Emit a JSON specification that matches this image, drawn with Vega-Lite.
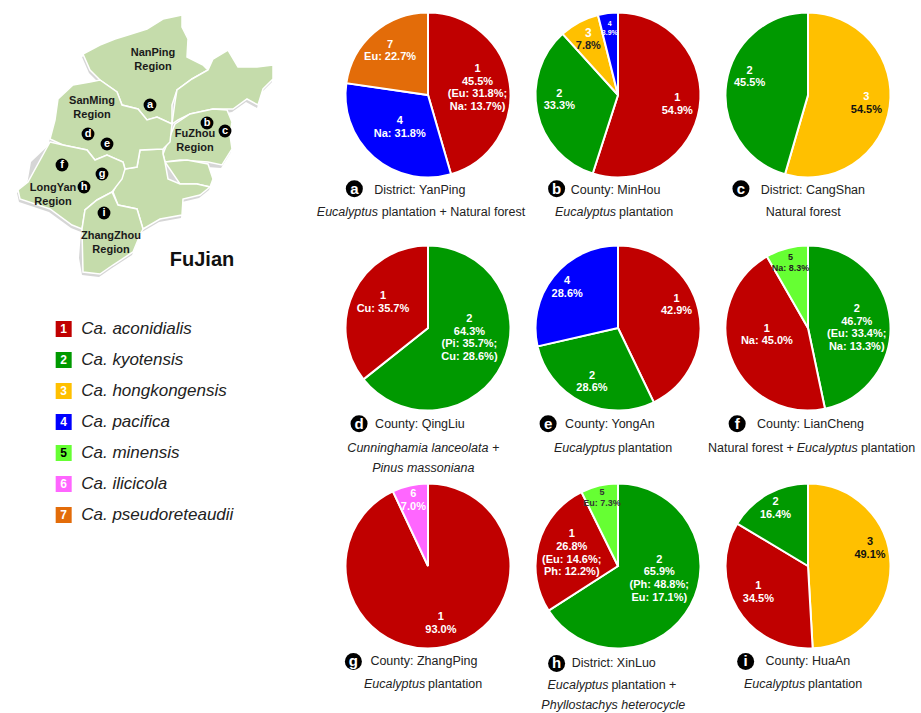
{
"$schema":"https://vega.github.io/schema/vega-lite/v6.json",
"padding":{"left":0,"top":8,"right":0,"bottom":0},
"background":"white",
"config":{"view":{"stroke":null},"axis":{"disable":true},"legend":{"disable":true},"font":"Liberation Sans"},
"bounds":"flush",
"spacing":{"row":0,"column":20},
"columns":4,
"concat":[
{"width":323,"height":170,"projection":{"type":"identity","scale":1,"translate":[0,-8]},
"layer":[
{"data":{"values":{"type":"FeatureCollection","features":[
{"type":"Feature","properties":{"name":"Shadow"},"geometry":{"type":"Polygon","coordinates":[[[82,55],[99,46],[114,40],[127,36],[146,30],[162,20],[181,16],[181,28],[187,40],[186,58],[202,66],[207,71],[212,60],[227,51],[237,68],[256,68],[272,66],[272,80],[262,90],[257,106],[246,100],[232,110],[226,111],[231,123],[229,136],[231,150],[221,166],[207,165],[212,180],[209,188],[199,196],[182,200],[181,216],[159,220],[142,230],[139,236],[132,253],[112,266],[99,275],[82,273],[79,256],[81,230],[71,226],[49,210],[19,200],[17,191],[27,183],[31,160],[49,143],[49,140],[54,121],[61,116],[57,100],[72,86],[89,83],[99,81],[89,71],[82,55]]]}}
]},"format":{"type":"json","property":"features"}},
"mark":{"type":"geoshape","fill":"#d6d6d6","stroke":null,"clip":false}},
{"data":{"values":{"type":"FeatureCollection","features":[
{"type":"Feature","properties":{"name":"NanPing"},"geometry":{"type":"Polygon","coordinates":[[[83,52],[100,43],[115,37],[128,33],[147,27],[163,17],[182,13],[182,25],[188,37],[187,55],[203,63],[208,68],[192,77],[177,88],[172,103],[172,122],[157,115],[147,118],[138,107],[122,103],[117,90],[100,78],[90,68],[83,52]]]}},
{"type":"Feature","properties":{"name":"NingDe"},"geometry":{"type":"Polygon","coordinates":[[[172,122],[175,100],[177,88],[192,77],[208,68],[213,57],[228,48],[238,65],[257,65],[273,63],[273,77],[263,87],[258,103],[247,97],[233,107],[213,107],[190,112],[178,118],[175,122]]]}},
{"type":"Feature","properties":{"name":"FuZhou"},"geometry":{"type":"Polygon","coordinates":[[[175,122],[190,112],[213,107],[227,108],[232,120],[230,133],[232,147],[222,163],[208,160],[180,158],[165,160],[163,152],[170,140]]]}},
{"type":"Feature","properties":{"name":"PuTian"},"geometry":{"type":"Polygon","coordinates":[[[165,160],[187,158],[208,162],[213,177],[210,185],[197,182],[180,182],[168,177]]]}},
{"type":"Feature","properties":{"name":"QuanZhou"},"geometry":{"type":"Polygon","coordinates":[[[125,167],[137,165],[140,148],[163,147],[163,152],[165,160],[168,177],[180,182],[197,182],[210,185],[200,193],[183,197],[182,213],[160,217],[143,227],[137,207],[118,203],[113,190],[122,177]]]}},
{"type":"Feature","properties":{"name":"SanMing"},"geometry":{"type":"Polygon","coordinates":[[[58,97],[73,83],[90,80],[100,78],[117,90],[122,103],[138,107],[147,118],[157,115],[172,122],[170,140],[163,147],[140,148],[137,165],[125,167],[123,160],[107,153],[95,158],[87,148],[63,143],[50,137],[55,118],[62,113]]]}},
{"type":"Feature","properties":{"name":"LongYan"},"geometry":{"type":"Polygon","coordinates":[[[50,140],[63,143],[87,148],[95,158],[107,153],[123,160],[125,167],[122,177],[112,190],[97,198],[85,208],[82,227],[72,223],[50,207],[20,197],[18,188],[28,180],[32,157]]]}},
{"type":"Feature","properties":{"name":"ZhangZhou"},"geometry":{"type":"Polygon","coordinates":[[[82,227],[85,208],[97,198],[112,190],[118,203],[137,207],[143,227],[140,233],[133,250],[113,263],[100,272],[83,270],[80,253]]]}}
]},"format":{"type":"json","property":"features"}},
"mark":{"type":"geoshape","fill":"#c5dcab","stroke":"white","strokeWidth":1.5,"clip":false}},
{"data":{"values":[{"name":"NanPing\nRegion","lon":153,"lat":58},{"name":"SanMing\nRegion","lon":92,"lat":106},{"name":"FuZhou\nRegion","lon":195,"lat":139},{"name":"LongYan\nRegion","lon":53,"lat":193},{"name":"ZhangZhou\nRegion","lon":111,"lat":241}]},
"mark":{"type":"text","fontSize":11,"fontWeight":"bold","color":"#1a1a1a","lineBreak":"\n","lineHeight":14,"baseline":"middle","dy":-7,"clip":false},
"encoding":{"longitude":{"field":"lon","type":"quantitative"},"latitude":{"field":"lat","type":"quantitative"},"text":{"field":"name"}}},
{"data":{"values":[{"letter":"a","lon":150,"lat":103},{"letter":"b","lon":207,"lat":121},{"letter":"c","lon":225,"lat":129},{"letter":"d","lon":88,"lat":132},{"letter":"e","lon":107,"lat":142},{"letter":"f","lon":62,"lat":163},{"letter":"g","lon":102,"lat":172},{"letter":"h","lon":84,"lat":185},{"letter":"i","lon":104,"lat":211}]},
"layer":[
{"mark":{"type":"circle","size":165,"color":"black","opacity":1,"clip":false},"encoding":{"longitude":{"field":"lon","type":"quantitative"},"latitude":{"field":"lat","type":"quantitative"}}},
{"mark":{"type":"text","fontSize":11,"fontWeight":"bold","color":"white","baseline":"middle","clip":false},"encoding":{"longitude":{"field":"lon","type":"quantitative"},"latitude":{"field":"lat","type":"quantitative"},"text":{"field":"letter"}}}
]},
{"data":{"values":[{"name":"FuJian","lon":202,"lat":258}]},
"mark":{"type":"text","fontSize":20,"fontWeight":"bold","color":"#111111","baseline":"middle","clip":false},
"encoding":{"longitude":{"field":"lon","type":"quantitative"},"latitude":{"field":"lat","type":"quantitative"},"text":{"field":"name"}}}
]},
{"width":170,"height":170,"data":{"values":[{"species":"1","share":45.5,"order":1,"label":"1\n45.5%\n(Eu: 31.8%;\nNa: 13.7%)"},{"species":"4","share":31.8,"order":2,"label":"4\nNa: 31.8%"},{"species":"7","share":22.7,"order":3,"label":"7\nEu: 22.7%"}]},
"encoding":{"theta":{"field":"share","type":"quantitative","stack":true},"order":{"field":"order"}},
"layer":[
{"mark":{"type":"arc","outerRadius":82.5,"stroke":"white","strokeWidth":2},"encoding":{"color":{"field":"species","scale":{"domain":["1","2","3","4","5","6","7"],"range":["#c00000","#009900","#ffc000","#0000ff","#66ff33","#ff66ff","#e36c09"]}}}},
{"mark":{"type":"text","lineBreak":"\n","lineHeight":12.7,"baseline":"middle","fontWeight":"bold","fontSize":11,"dy":{"expr":"datum.share>40?-19:-6.35"},"radius":{"expr":"datum.share>40?50:(datum.share<25?58:43)"}},"encoding":{"detail":{"field":"species"},"text":{"field":"label"},"color":{"value":"white"}}}
]},
{"width":170,"height":170,"data":{"values":[{"species":"1","share":54.9,"order":1,"label":"1\n54.9%","num":""},{"species":"2","share":33.3,"order":2,"label":"2\n33.3%","num":""},{"species":"3","share":7.8,"order":3,"label":" \n7.8%","num":"3\n "},{"species":"4","share":3.9,"order":4,"label":"4\n3.9%","num":""}]},
"encoding":{"theta":{"field":"share","type":"quantitative","stack":true},"order":{"field":"order"}},
"layer":[
{"mark":{"type":"arc","outerRadius":82.5,"stroke":"white","strokeWidth":2},"encoding":{"color":{"field":"species","scale":{"domain":["1","2","3","4","5","6","7"],"range":["#c00000","#009900","#ffc000","#0000ff","#66ff33","#ff66ff","#e36c09"]}}}},
{"mark":{"type":"text","lineBreak":"\n","lineHeight":{"expr":"datum.share<5?9.5:12.7"},"baseline":"middle","fontWeight":"bold","fontSize":{"expr":"datum.share<5?7:11"},"dy":{"expr":"datum.share<5?-4.75:(datum.species=='2'?-14:-6.35)"},"radius":{"expr":"datum.share<10?(datum.share<5?67:63):60"}},"encoding":{"detail":{"field":"species"},"text":{"field":"label"},"color":{"condition":{"test":"datum.species=='3'","value":"#222222"},"value":"white"}}},
{"mark":{"type":"text","lineBreak":"\n","lineHeight":12.7,"baseline":"middle","fontWeight":"bold","fontSize":12,"dy":-6.35,"radius":63},"encoding":{"detail":{"field":"species"},"text":{"field":"num"},"color":{"value":"white"}}}
]},
{"width":170,"height":170,"data":{"values":[{"species":"3","share":54.5,"order":1,"label":" \n54.5%","num":"3\n "},{"species":"2","share":45.5,"order":2,"label":"2\n45.5%","num":""}]},
"encoding":{"theta":{"field":"share","type":"quantitative","stack":true},"order":{"field":"order"}},
"layer":[
{"mark":{"type":"arc","outerRadius":82.5,"stroke":"white","strokeWidth":2},"encoding":{"color":{"field":"species","scale":{"domain":["1","2","3","4","5","6","7"],"range":["#c00000","#009900","#ffc000","#0000ff","#66ff33","#ff66ff","#e36c09"]}}}},
{"mark":{"type":"text","lineBreak":"\n","lineHeight":12.7,"baseline":"middle","fontWeight":"bold","fontSize":11,"dy":{"expr":"datum.species=='2'?-16:-6.35"},"radius":59},"encoding":{"detail":{"field":"species"},"text":{"field":"label"},"color":{"condition":{"test":"datum.species=='3'","value":"#111111"},"value":"white"}}},
{"mark":{"type":"text","lineBreak":"\n","lineHeight":12.7,"baseline":"middle","fontWeight":"bold","fontSize":11,"dy":-6.35,"radius":59},"encoding":{"detail":{"field":"species"},"text":{"field":"num"},"color":{"value":"white"}}}
]},
{"width":323,"height":63,"data":{"values":[{"note":""}]},"mark":{"type":"text"},"encoding":{"text":{"field":"note"}}},
{"width":170,"height":63,"data":{"values":[{"letter":"a","site":"District: YanPing","sp":"Eucalyptus","rest":"plantation + Natural forest"}]},
"layer":[
{"mark":{"type":"circle","size":290,"color":"black","opacity":1},"encoding":{"x":{"datum":12,"type":"quantitative","scale":{"domain":[0,170]}},"y":{"datum":9,"type":"quantitative","scale":{"domain":[63,0]}}}},
{"mark":{"type":"text","fontSize":15,"fontWeight":"bold","color":"white","baseline":"middle"},"encoding":{"x":{"datum":12,"type":"quantitative"},"y":{"datum":9,"type":"quantitative"},"text":{"field":"letter"}}},
{"mark":{"type":"text","fontSize":12.5,"color":"#222222","align":"left","baseline":"middle"},"encoding":{"x":{"datum":33,"type":"quantitative"},"y":{"datum":10,"type":"quantitative"},"text":{"field":"site"}}},
{"mark":{"type":"text","fontSize":12.5,"fontStyle":"italic","color":"#222222","align":"right","baseline":"middle"},"encoding":{"x":{"datum":37,"type":"quantitative"},"y":{"datum":33,"type":"quantitative"},"text":{"field":"sp"}}},
{"mark":{"type":"text","fontSize":12.5,"color":"#222222","align":"left","baseline":"middle"},"encoding":{"x":{"datum":41,"type":"quantitative"},"y":{"datum":33,"type":"quantitative"},"text":{"field":"rest"}}}
]},
{"width":170,"height":63,"data":{"values":[{"letter":"b","site":"County: MinHou","sp":"Eucalyptus","rest":"plantation"}]},
"layer":[
{"mark":{"type":"circle","size":290,"color":"black","opacity":1},"encoding":{"x":{"datum":25,"type":"quantitative","scale":{"domain":[0,170]}},"y":{"datum":9,"type":"quantitative","scale":{"domain":[63,0]}}}},
{"mark":{"type":"text","fontSize":15,"fontWeight":"bold","color":"white","baseline":"middle"},"encoding":{"x":{"datum":25,"type":"quantitative"},"y":{"datum":9,"type":"quantitative"},"text":{"field":"letter"}}},
{"mark":{"type":"text","fontSize":12.5,"color":"#222222","align":"left","baseline":"middle"},"encoding":{"x":{"datum":40,"type":"quantitative"},"y":{"datum":10,"type":"quantitative"},"text":{"field":"site"}}},
{"mark":{"type":"text","fontSize":12.5,"fontStyle":"italic","color":"#222222","align":"right","baseline":"middle"},"encoding":{"x":{"datum":88,"type":"quantitative"},"y":{"datum":33,"type":"quantitative"},"text":{"field":"sp"}}},
{"mark":{"type":"text","fontSize":12.5,"color":"#222222","align":"left","baseline":"middle"},"encoding":{"x":{"datum":91,"type":"quantitative"},"y":{"datum":33,"type":"quantitative"},"text":{"field":"rest"}}}
]},
{"width":170,"height":63,"data":{"values":[{"letter":"c","site":"District: CangShan","rest":"Natural forest"}]},
"layer":[
{"mark":{"type":"circle","size":290,"color":"black","opacity":1},"encoding":{"x":{"datum":19,"type":"quantitative","scale":{"domain":[0,170]}},"y":{"datum":9,"type":"quantitative","scale":{"domain":[63,0]}}}},
{"mark":{"type":"text","fontSize":15,"fontWeight":"bold","color":"white","baseline":"middle"},"encoding":{"x":{"datum":19,"type":"quantitative"},"y":{"datum":9,"type":"quantitative"},"text":{"field":"letter"}}},
{"mark":{"type":"text","fontSize":12.5,"color":"#222222","align":"left","baseline":"middle"},"encoding":{"x":{"datum":40,"type":"quantitative"},"y":{"datum":10,"type":"quantitative"},"text":{"field":"site"}}},
{"mark":{"type":"text","fontSize":12.5,"color":"#222222","baseline":"middle"},"encoding":{"x":{"datum":85,"type":"quantitative"},"y":{"datum":33,"type":"quantitative"},"text":{"field":"rest"}}}
]},
{"width":323,"height":170,
"data":{"values":[{"species":"1","name":"Ca. aconidialis"},{"species":"2","name":"Ca. kyotensis"},{"species":"3","name":"Ca. hongkongensis"},{"species":"4","name":"Ca. pacifica"},{"species":"5","name":"Ca. minensis"},{"species":"6","name":"Ca. ilicicola"},{"species":"7","name":"Ca. pseudoreteaudii"}]},
"encoding":{"y":{"field":"species","type":"ordinal","sort":null,"scale":{"type":"point","range":[86,272],"padding":0}}},
"layer":[
{"mark":{"type":"square","size":256,"opacity":1},"encoding":{"x":{"datum":69,"type":"quantitative","scale":{"domain":[0,323]}},"color":{"field":"species","scale":{"domain":["1","2","3","4","5","6","7"],"range":["#c00000","#009900","#ffc000","#0000ff","#66ff33","#ff66ff","#e36c09"]}}}},
{"mark":{"type":"text","fontSize":12,"fontWeight":"bold","baseline":"middle"},"encoding":{"x":{"datum":69,"type":"quantitative"},"text":{"field":"species"},"color":{"condition":{"test":"datum.species=='5'","value":"black"},"value":"white"}}},
{"mark":{"type":"text","fontSize":17,"fontStyle":"italic","align":"left","baseline":"middle","color":"#222222"},"encoding":{"x":{"datum":88,"type":"quantitative"},"text":{"field":"name"}}}
]},
{"width":170,"height":170,"data":{"values":[{"species":"2","share":64.3,"order":1,"label":"2\n64.3%\n(Pi: 35.7%;\nCu: 28.6%)"},{"species":"1","share":35.7,"order":2,"label":"1\nCu: 35.7%"}]},
"encoding":{"theta":{"field":"share","type":"quantitative","stack":true},"order":{"field":"order"}},
"layer":[
{"mark":{"type":"arc","outerRadius":82.5,"stroke":"white","strokeWidth":2},"encoding":{"color":{"field":"species","scale":{"domain":["1","2","3","4","5","6","7"],"range":["#c00000","#009900","#ffc000","#0000ff","#66ff33","#ff66ff","#e36c09"]}}}},
{"mark":{"type":"text","lineBreak":"\n","lineHeight":12.7,"baseline":"middle","fontWeight":"bold","fontSize":11,"dy":{"expr":"datum.share>50?-29:-10"},"radius":{"expr":"datum.share>50?46:50"}},"encoding":{"detail":{"field":"species"},"text":{"field":"label"},"color":{"value":"white"}}}
]},
{"width":170,"height":170,"data":{"values":[{"species":"1","share":42.9,"order":1,"label":"1\n42.9%"},{"species":"2","share":28.6,"order":2,"label":"2\n28.6%"},{"species":"4","share":28.6,"order":3,"label":"4\n28.6%"}]},
"encoding":{"theta":{"field":"share","type":"quantitative","stack":true},"order":{"field":"order"}},
"layer":[
{"mark":{"type":"arc","outerRadius":82.5,"stroke":"white","strokeWidth":2},"encoding":{"color":{"field":"species","scale":{"domain":["1","2","3","4","5","6","7"],"range":["#c00000","#009900","#ffc000","#0000ff","#66ff33","#ff66ff","#e36c09"]}}}},
{"mark":{"type":"text","lineBreak":"\n","lineHeight":12.7,"baseline":"middle","fontWeight":"bold","fontSize":11,"dy":{"expr":"datum.species=='1'?-16:-6.35"},"radius":{"expr":"datum.species=='4'?65:60"}},"encoding":{"detail":{"field":"species"},"text":{"field":"label"},"color":{"value":"white"}}}
]},
{"width":170,"height":170,"data":{"values":[{"species":"2","share":46.7,"order":1,"label":"2\n46.7%\n(Eu: 33.4%;\nNa: 13.3%)"},{"species":"1","share":45.0,"order":2,"label":"1\nNa: 45.0%"},{"species":"5","share":8.3,"order":3,"label":"5\nNa: 8.3%"}]},
"encoding":{"theta":{"field":"share","type":"quantitative","stack":true},"order":{"field":"order"}},
"layer":[
{"mark":{"type":"arc","outerRadius":82.5,"stroke":"white","strokeWidth":2},"encoding":{"color":{"field":"species","scale":{"domain":["1","2","3","4","5","6","7"],"range":["#c00000","#009900","#ffc000","#0000ff","#66ff33","#ff66ff","#e36c09"]}}}},
{"mark":{"type":"text","lineBreak":"\n","lineHeight":{"expr":"datum.share<10?11:12.7"},"baseline":"middle","fontWeight":"bold","fontSize":{"expr":"datum.share<10?9:11"},"dy":{"expr":"datum.share<10?-5.5:(datum.species=='2'?-14:-15)"},"radius":{"expr":"datum.share<10?68:(datum.species=='2'?49:44)"}},"encoding":{"detail":{"field":"species"},"text":{"field":"label"},"color":{"condition":{"test":"datum.species=='5'","value":"#222222"},"value":"white"}}}
]},
{"width":323,"height":68,"data":{"values":[{"note":""}]},"mark":{"type":"text"},"encoding":{"text":{"field":"note"}}},
{"width":170,"height":68,"data":{"values":[{"letter":"d","site":"County: QingLiu","sp":"Cunninghamia lanceolata +","more":"Pinus massoniana"}]},
"layer":[
{"mark":{"type":"circle","size":290,"color":"black","opacity":1},"encoding":{"x":{"datum":17,"type":"quantitative","scale":{"domain":[0,170]}},"y":{"datum":11,"type":"quantitative","scale":{"domain":[68,0]}}}},
{"mark":{"type":"text","fontSize":15,"fontWeight":"bold","color":"white","baseline":"middle"},"encoding":{"x":{"datum":17,"type":"quantitative"},"y":{"datum":11,"type":"quantitative"},"text":{"field":"letter"}}},
{"mark":{"type":"text","fontSize":12.5,"color":"#222222","align":"left","baseline":"middle"},"encoding":{"x":{"datum":34,"type":"quantitative"},"y":{"datum":11,"type":"quantitative"},"text":{"field":"site"}}},
{"mark":{"type":"text","fontSize":12.5,"fontStyle":"italic","color":"#222222","baseline":"middle"},"encoding":{"x":{"datum":85,"type":"quantitative"},"y":{"datum":36,"type":"quantitative"},"text":{"field":"sp"}}},
{"mark":{"type":"text","fontSize":12.5,"fontStyle":"italic","color":"#222222","baseline":"middle"},"encoding":{"x":{"datum":85,"type":"quantitative"},"y":{"datum":57,"type":"quantitative"},"text":{"field":"more"}}}
]},
{"width":170,"height":68,"data":{"values":[{"letter":"e","site":"County: YongAn","sp":"Eucalyptus","rest":"plantation"}]},
"layer":[
{"mark":{"type":"circle","size":290,"color":"black","opacity":1},"encoding":{"x":{"datum":16,"type":"quantitative","scale":{"domain":[0,170]}},"y":{"datum":11,"type":"quantitative","scale":{"domain":[68,0]}}}},
{"mark":{"type":"text","fontSize":15,"fontWeight":"bold","color":"white","baseline":"middle"},"encoding":{"x":{"datum":16,"type":"quantitative"},"y":{"datum":11,"type":"quantitative"},"text":{"field":"letter"}}},
{"mark":{"type":"text","fontSize":12.5,"color":"#222222","align":"left","baseline":"middle"},"encoding":{"x":{"datum":34,"type":"quantitative"},"y":{"datum":11,"type":"quantitative"},"text":{"field":"site"}}},
{"mark":{"type":"text","fontSize":12.5,"fontStyle":"italic","color":"#222222","align":"right","baseline":"middle"},"encoding":{"x":{"datum":87,"type":"quantitative"},"y":{"datum":36,"type":"quantitative"},"text":{"field":"sp"}}},
{"mark":{"type":"text","fontSize":12.5,"color":"#222222","align":"left","baseline":"middle"},"encoding":{"x":{"datum":90,"type":"quantitative"},"y":{"datum":36,"type":"quantitative"},"text":{"field":"rest"}}}
]},
{"width":170,"height":68,"data":{"values":[{"letter":"f","site":"County: LianCheng","pre":"Natural forest +","sp":"Eucalyptus","rest":"plantation"}]},
"layer":[
{"mark":{"type":"circle","size":290,"color":"black","opacity":1},"encoding":{"x":{"datum":15,"type":"quantitative","scale":{"domain":[0,170]}},"y":{"datum":11,"type":"quantitative","scale":{"domain":[68,0]}}}},
{"mark":{"type":"text","fontSize":15,"fontWeight":"bold","color":"white","baseline":"middle"},"encoding":{"x":{"datum":15,"type":"quantitative"},"y":{"datum":11,"type":"quantitative"},"text":{"field":"letter"}}},
{"mark":{"type":"text","fontSize":12.5,"color":"#222222","align":"left","baseline":"middle"},"encoding":{"x":{"datum":36,"type":"quantitative"},"y":{"datum":11,"type":"quantitative"},"text":{"field":"site"}}},
{"mark":{"type":"text","fontSize":12.5,"color":"#222222","align":"right","baseline":"middle"},"encoding":{"x":{"datum":75,"type":"quantitative"},"y":{"datum":36,"type":"quantitative"},"text":{"field":"pre"}}},
{"mark":{"type":"text","fontSize":12.5,"fontStyle":"italic","color":"#222222","align":"left","baseline":"middle"},"encoding":{"x":{"datum":78,"type":"quantitative"},"y":{"datum":36,"type":"quantitative"},"text":{"field":"sp"}}},
{"mark":{"type":"text","fontSize":12.5,"color":"#222222","align":"left","baseline":"middle"},"encoding":{"x":{"datum":146,"type":"quantitative"},"y":{"datum":36,"type":"quantitative"},"text":{"field":"rest"}}}
]},
{"width":323,"height":170,"data":{"values":[{"note":""}]},"mark":{"type":"text"},"encoding":{"text":{"field":"note"}}},
{"width":170,"height":170,"data":{"values":[{"species":"1","share":93.0,"order":1,"label":"1\n93.0%"},{"species":"6","share":7.0,"order":2,"label":"6\n7.0%"}]},
"encoding":{"theta":{"field":"share","type":"quantitative","stack":true},"order":{"field":"order"}},
"layer":[
{"mark":{"type":"arc","outerRadius":82.5,"stroke":"white","strokeWidth":2},"encoding":{"color":{"field":"species","scale":{"domain":["1","2","3","4","5","6","7"],"range":["#c00000","#009900","#ffc000","#0000ff","#66ff33","#ff66ff","#e36c09"]}}}},
{"mark":{"type":"text","lineBreak":"\n","lineHeight":12.7,"baseline":"middle","fontWeight":"bold","fontSize":11,"dy":-6.35,"radius":{"expr":"datum.share<10?67:59"}},"encoding":{"detail":{"field":"species"},"text":{"field":"label"},"color":{"value":"white"}}}
]},
{"width":170,"height":170,"data":{"values":[{"species":"2","share":65.9,"order":1,"label":"2\n65.9%\n(Ph: 48.8%;\nEu: 17.1%)"},{"species":"1","share":26.8,"order":2,"label":"1\n26.8%\n(Eu: 14.6%;\nPh: 12.2%)"},{"species":"5","share":7.3,"order":3,"label":"5\nEu: 7.3%"}]},
"encoding":{"theta":{"field":"share","type":"quantitative","stack":true},"order":{"field":"order"}},
"layer":[
{"mark":{"type":"arc","outerRadius":82.5,"stroke":"white","strokeWidth":2},"encoding":{"color":{"field":"species","scale":{"domain":["1","2","3","4","5","6","7"],"range":["#c00000","#009900","#ffc000","#0000ff","#66ff33","#ff66ff","#e36c09"]}}}},
{"mark":{"type":"text","lineBreak":"\n","lineHeight":{"expr":"datum.share<10?11:12.7"},"baseline":"middle","fontWeight":"bold","fontSize":{"expr":"datum.share<10?9:11"},"dy":{"expr":"datum.share<10?-5.5:(datum.species=='2'?-29:-19)"},"radius":{"expr":"datum.share<10?70:(datum.species=='2'?47:48)"}},"encoding":{"detail":{"field":"species"},"text":{"field":"label"},"color":{"condition":{"test":"datum.species=='5'","value":"#333333"},"value":"white"}}}
]},
{"width":170,"height":170,"data":{"values":[{"species":"3","share":49.1,"order":1,"label":"3\n49.1%"},{"species":"1","share":34.5,"order":2,"label":"1\n34.5%"},{"species":"2","share":16.4,"order":3,"label":"2\n16.4%"}]},
"encoding":{"theta":{"field":"share","type":"quantitative","stack":true},"order":{"field":"order"}},
"layer":[
{"mark":{"type":"arc","outerRadius":82.5,"stroke":"white","strokeWidth":2},"encoding":{"color":{"field":"species","scale":{"domain":["1","2","3","4","5","6","7"],"range":["#c00000","#009900","#ffc000","#0000ff","#66ff33","#ff66ff","#e36c09"]}}}},
{"mark":{"type":"text","lineBreak":"\n","lineHeight":12.7,"baseline":"middle","fontWeight":"bold","fontSize":11,"dy":{"expr":"datum.species=='3'?-22:(datum.species=='1'?-10:-6.35)"},"radius":{"expr":"datum.species=='3'?62:(datum.species=='1'?58:66)"}},"encoding":{"detail":{"field":"species"},"text":{"field":"label"},"color":{"condition":{"test":"datum.species=='3'","value":"#111111"},"value":"white"}}}
]},
{"width":323,"height":62,"data":{"values":[{"note":""}]},"mark":{"type":"text"},"encoding":{"text":{"field":"note"}}},
{"width":170,"height":62,"data":{"values":[{"letter":"g","site":"County: ZhangPing","sp":"Eucalyptus","rest":"plantation"}]},
"layer":[
{"mark":{"type":"circle","size":290,"color":"black","opacity":1},"encoding":{"x":{"datum":11,"type":"quantitative","scale":{"domain":[0,170]}},"y":{"datum":11,"type":"quantitative","scale":{"domain":[62,0]}}}},
{"mark":{"type":"text","fontSize":15,"fontWeight":"bold","color":"white","baseline":"middle"},"encoding":{"x":{"datum":11,"type":"quantitative"},"y":{"datum":11,"type":"quantitative"},"text":{"field":"letter"}}},
{"mark":{"type":"text","fontSize":12.5,"color":"#222222","align":"left","baseline":"middle"},"encoding":{"x":{"datum":29,"type":"quantitative"},"y":{"datum":11,"type":"quantitative"},"text":{"field":"site"}}},
{"mark":{"type":"text","fontSize":12.5,"fontStyle":"italic","color":"#222222","align":"right","baseline":"middle"},"encoding":{"x":{"datum":87,"type":"quantitative"},"y":{"datum":35,"type":"quantitative"},"text":{"field":"sp"}}},
{"mark":{"type":"text","fontSize":12.5,"color":"#222222","align":"left","baseline":"middle"},"encoding":{"x":{"datum":90,"type":"quantitative"},"y":{"datum":35,"type":"quantitative"},"text":{"field":"rest"}}}
]},
{"width":170,"height":62,"data":{"values":[{"letter":"h","site":"District: XinLuo","sp":"Eucalyptus","rest":"plantation +","more":"Phyllostachys heterocycle"}]},
"layer":[
{"mark":{"type":"circle","size":290,"color":"black","opacity":1},"encoding":{"x":{"datum":25,"type":"quantitative","scale":{"domain":[0,170]}},"y":{"datum":13,"type":"quantitative","scale":{"domain":[62,0]}}}},
{"mark":{"type":"text","fontSize":15,"fontWeight":"bold","color":"white","baseline":"middle"},"encoding":{"x":{"datum":25,"type":"quantitative"},"y":{"datum":13,"type":"quantitative"},"text":{"field":"letter"}}},
{"mark":{"type":"text","fontSize":12.5,"color":"#222222","align":"left","baseline":"middle"},"encoding":{"x":{"datum":41,"type":"quantitative"},"y":{"datum":13,"type":"quantitative"},"text":{"field":"site"}}},
{"mark":{"type":"text","fontSize":12.5,"fontStyle":"italic","color":"#222222","align":"right","baseline":"middle"},"encoding":{"x":{"datum":80,"type":"quantitative"},"y":{"datum":36,"type":"quantitative"},"text":{"field":"sp"}}},
{"mark":{"type":"text","fontSize":12.5,"color":"#222222","align":"left","baseline":"middle"},"encoding":{"x":{"datum":83,"type":"quantitative"},"y":{"datum":36,"type":"quantitative"},"text":{"field":"rest"}}},
{"mark":{"type":"text","fontSize":12.5,"fontStyle":"italic","color":"#222222","baseline":"middle"},"encoding":{"x":{"datum":85,"type":"quantitative"},"y":{"datum":57,"type":"quantitative"},"text":{"field":"more"}}}
]},
{"width":170,"height":62,"data":{"values":[{"letter":"i","site":"County: HuaAn","sp":"Eucalyptus","rest":"plantation"}]},
"layer":[
{"mark":{"type":"circle","size":290,"color":"black","opacity":1},"encoding":{"x":{"datum":24,"type":"quantitative","scale":{"domain":[0,170]}},"y":{"datum":11,"type":"quantitative","scale":{"domain":[62,0]}}}},
{"mark":{"type":"text","fontSize":15,"fontWeight":"bold","color":"white","baseline":"middle"},"encoding":{"x":{"datum":24,"type":"quantitative"},"y":{"datum":11,"type":"quantitative"},"text":{"field":"letter"}}},
{"mark":{"type":"text","fontSize":12.5,"color":"#222222","align":"left","baseline":"middle"},"encoding":{"x":{"datum":45,"type":"quantitative"},"y":{"datum":11,"type":"quantitative"},"text":{"field":"site"}}},
{"mark":{"type":"text","fontSize":12.5,"fontStyle":"italic","color":"#222222","align":"right","baseline":"middle"},"encoding":{"x":{"datum":87,"type":"quantitative"},"y":{"datum":35,"type":"quantitative"},"text":{"field":"sp"}}},
{"mark":{"type":"text","fontSize":12.5,"color":"#222222","align":"left","baseline":"middle"},"encoding":{"x":{"datum":90,"type":"quantitative"},"y":{"datum":35,"type":"quantitative"},"text":{"field":"rest"}}}
]}
]
}
